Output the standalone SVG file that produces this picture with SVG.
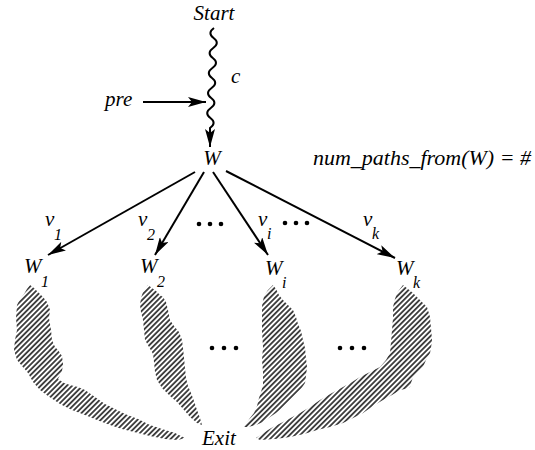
<svg xmlns="http://www.w3.org/2000/svg" width="535" height="450" viewBox="0 0 535 450">
<style>
.t{font-family:"Liberation Serif","Times New Roman",serif;font-style:italic;font-size:21px;fill:#000}
.s{font-family:"Liberation Serif","Times New Roman",serif;font-style:italic;font-size:16px;fill:#000}
.ln{fill:none;stroke:#000;stroke-width:2}
.blob{fill:url(#hatch);stroke:none}
</style>
<defs>
<marker id="ah" markerUnits="userSpaceOnUse" viewBox="0 0 18 10" refX="18" refY="5" markerWidth="18" markerHeight="10" orient="auto">
<path d="M0,0 L18,5 L0,10 L4,5 z" fill="#000"/>
</marker>
<pattern id="hatch" patternUnits="userSpaceOnUse" width="3.7" height="3.7" patternTransform="rotate(45)">
<rect width="3.7" height="3.7" fill="#fff"/>
<line x1="1.85" y1="0" x2="1.85" y2="3.7" stroke="#000" stroke-width="1.4"/>
</pattern>
</defs>
<rect width="535" height="450" fill="#fff"/>

<g id="connectors">
<path class="ln" marker-end="url(#ah)" d="M214,28 q-7,5 -0.4,10 t-0.4,10 t-0.4,10 t-0.4,10 t-0.4,10 t-0.4,10 t-0.4,10 t-0.4,10 t-0.4,10 t-0.4,10 L210,147"/>
<line class="ln" marker-end="url(#ah)" x1="143" y1="102" x2="206" y2="102"/>
<line class="ln" marker-end="url(#ah)" x1="195" y1="172" x2="48" y2="255"/>
<line class="ln" marker-end="url(#ah)" x1="204" y1="172" x2="155" y2="255"/>
<line class="ln" marker-end="url(#ah)" x1="213" y1="172" x2="268" y2="255"/>
<line class="ln" marker-end="url(#ah)" x1="226" y1="171" x2="395" y2="258"/>
</g>

<g id="start"><text class="t" x="214" y="20" text-anchor="middle">Start</text></g>
<g id="c-label"><text class="t" x="231" y="83">c</text></g>
<g id="pre"><text class="t" x="105" y="106">pre</text></g>
<g id="W"><text class="t" x="212" y="165" text-anchor="middle">W</text></g>
<g id="num-paths"><text class="t" x="313" y="165" textLength="218" lengthAdjust="spacingAndGlyphs">num_paths_from(W) = #</text></g>

<g id="v-labels">
<text class="t" x="45" y="226">v</text><text class="s" x="54" y="240">1</text>
<text class="t" x="138" y="226">v</text><text class="s" x="147" y="240">2</text>
<text class="t" x="258" y="226">v</text><text class="s" x="267" y="239">i</text>
<text class="t" x="363" y="226">v</text><text class="s" x="372" y="239">k</text>
</g>
<g id="dots-top">
<circle cx="199" cy="224" r="2.3"/><circle cx="210" cy="224" r="2.3"/><circle cx="221" cy="224" r="2.3"/>
<circle cx="285" cy="223" r="2.3"/><circle cx="296" cy="223" r="2.3"/><circle cx="307" cy="223" r="2.3"/>
</g>

<g id="W1"><text class="t" x="24" y="273">W</text><text class="s" x="41" y="287">1</text>
<path class="blob" d="M30,285 L34,288 38,292 43,297 47,302 50,310 49,318 51,330 52,340 55,347 58,350 62,356 63,364 62,371 58,379 64,383 70,385 78,387 85,390 95,397 105,404 115,409 125,414 138,419 150,425 162,429 175,433 185,438 178,440 165,439 150,436 138,433 122,429 110,425 97,420 85,415 72,410 60,404 48,396 40,390 33,382 28,373 22,366 17,360 14,350 15,340 17,330 16,318 17,305 20,299 24,294 27,289 Z"/></g>
<g id="W2"><text class="t" x="140" y="273">W</text><text class="s" x="157" y="287">2</text>
<path class="blob" d="M148,285 L152,288 156,291 160,295 163,297 166,302 168,310 170,320 174,326 179,332 182,340 183,348 184,358 185,368 186,378 188,386 191,393 194,401 197,410 200,418 202,425 197,423 190,417 184,410 177,402 170,396 162,388 157,380 155,372 154,362 153,354 149,347 145,340 144,330 143,320 141,312 140,305 141,298 143,292 146,288 Z"/></g>
<g id="Wi"><text class="t" x="265" y="275">W</text><text class="s" x="282" y="288">i</text>
<path class="blob" d="M273,285 L276,289 279,295 283,300 288,305 293,310 296,317 298,324 301,331 303,340 305,348 306,358 307,367 306,376 305,383 301,389 297,393 292,398 287,403 281,409 276,413 270,417 263,422 256,425 248,427 244,427 246,424 250,418 254,413 257,406 259,398 261,392 263,385 263,372 262,360 263,347 262,332 262,318 262,306 264,296 268,290 Z"/></g>
<g id="Wk"><text class="t" x="396" y="275">W</text><text class="s" x="413" y="288">k</text>
<path class="blob" d="M403,285 L408,289 413,293 420,300 427,307 430,317 431,328 432,340 431,348 430,353 426,360 423,367 418,372 413,377 411,383 410,387 405,389 400,390 392,395 383,400 373,406 363,413 353,418 343,423 330,427 317,430 304,434 290,437 275,439 260,440 256,438 262,434 268,430 273,427 285,421 300,413 310,407 320,400 332,393 343,387 352,382 360,377 370,372 380,367 386,360 390,353 391,342 392,330 393,318 393,307 395,299 397,293 400,289 Z"/></g>

<g id="dots-bottom">
<circle cx="212" cy="348" r="2.3"/><circle cx="224" cy="348" r="2.3"/><circle cx="236" cy="348" r="2.3"/>
<circle cx="340" cy="348" r="2.3"/><circle cx="352" cy="348" r="2.3"/><circle cx="364" cy="348" r="2.3"/>
</g>
<g id="exit"><text class="t" x="202" y="445">Exit</text></g>
</svg>
